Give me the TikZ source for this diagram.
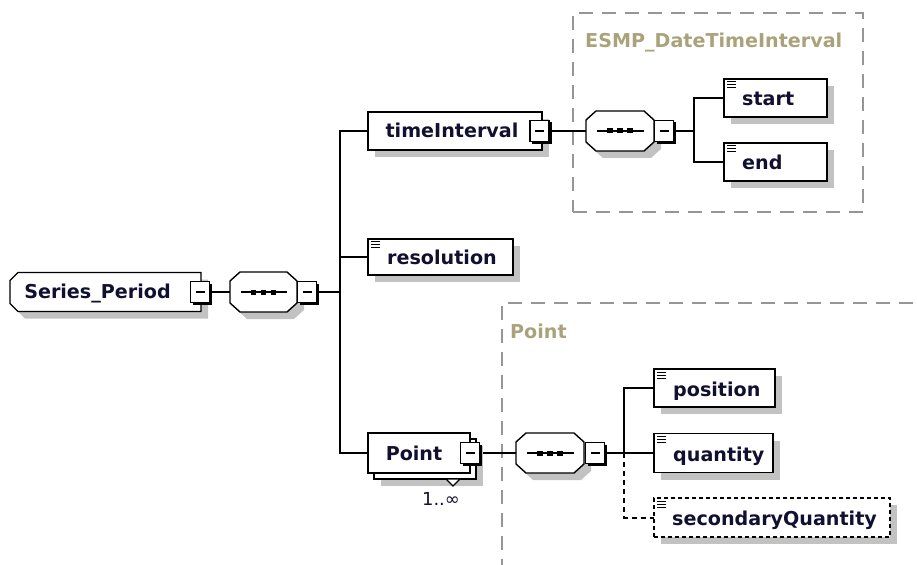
\documentclass[tikz,border=0pt]{standalone}
\usepackage{fontspec}
\setmainfont{DejaVu Sans}
\usetikzlibrary{shadows,calc}

\definecolor{ink}{RGB}{16,16,48}
\definecolor{shade}{RGB}{194,194,194}
\definecolor{grpline}{RGB}{150,150,150}
\definecolor{grplabel}{RGB}{170,162,122}

\pgfdeclarelayer{frames}
\pgfdeclarelayer{wires}
\pgfsetlayers{frames,wires,main}

\tikzset{
  shadowed/.style={drop shadow={shadow xshift=7bp,shadow yshift=-7bp,fill=shade,opacity=1}},
  plainnode/.style={rectangle,inner sep=0pt,outer sep=0pt},
  elembox/.style={plainnode,draw=black,fill=white,line width=1.4bp},
  elemshadow/.style={elembox,shadowed},
  optbox/.style={elembox,shadowed,dash pattern=on 4bp off 3bp},
  minusnode/.style={elembox,minimum width=19bp,minimum height=21bp},
  seqshape/.style={draw=black,fill=white,line width=1.4bp,shadowed},
  boxtext/.style={inner sep=0pt,text=ink,font=\fontsize{19.2}{22}\selectfont\bfseries},
  grptext/.style={inner sep=0pt,text=grplabel,font=\fontsize{19.2}{22}\selectfont\bfseries},
  multtext/.style={inner sep=0pt,text=ink,font=\fontsize{18}{20}\selectfont},
  conn/.style={draw=black,line width=2bp},
  optconn/.style={conn,dash pattern=on 5bp off 4bp},
  grpbox/.style={plainnode,draw=grpline,line width=1.5bp,dash pattern=on 14bp off 9bp},
}

% collapse toggle with a raised right/bottom edge
\newcommand\minusbox[3]{%
  \node[minusnode] (#1) at (#2,#3) {};
  \draw[line width=3bp] ($(#1.north east)+(1,2)$) -- ($(#1.south east)+(1,1)$) -- ($(#1.south west)+(2,1)$);
  \draw[line width=1.4bp] ($(#1.west)+(5,0)$) -- ($(#1.east)+(-5,0)$);
}

% sequence compositor: octagon with a dotted bar
\newcommand\seqgroup[4]{%
  \node[plainnode,minimum width=#4bp,minimum height=40bp] (#1) at (#2,#3) {};
  \draw[seqshape] ($(#1.north west)+(10,0)$) -- ($(#1.north east)+(-10,0)$)
    -- ($(#1.north east)+(0,9)$) -- ($(#1.south east)+(0,-9)$)
    -- ($(#1.south east)+(-10,0)$) -- ($(#1.south west)+(10,0)$)
    -- ($(#1.south west)+(0,-9)$) -- ($(#1.north west)+(0,9)$) -- cycle;
  \draw[line width=1.6bp] ($(#1.west)+(11,0)$) -- ($(#1.east)+(-10,0)$);
  \foreach \d in {-10,0,10}
    \fill ($(#1.center)+(\d,0)$) ++(-2.7,-2.5) rectangle ++(5.4,5);
}

% simple-content marker in the top left corner of a box
\newcommand\texticon[1]{%
  \foreach \k in {0,3,6}
    \draw[line width=1bp] ($(#1.north west)+(3,3+\k)$) -- ++(9,0);
}

\begin{document}
\begin{tikzpicture}[x=1bp,y=-1bp]
\useasboundingbox (0,0) rectangle (917,565);

% type group frames
\begin{pgfonlayer}{frames}
  \node[grpbox,minimum width=290bp,minimum height=199bp] (grpESMP) at (718,112.5) {};
  \node[grpbox,anchor=north west,minimum width=500bp,minimum height=400bp] (grpPoint) at (502,303) {};
\end{pgfonlayer}
\node[grptext,anchor=base west] (grpESMPlbl) at (585,48) {ESMP\_DateTimeInterval};
\node[grptext,anchor=base west] (grpPointlbl) at (510,338) {Point};

% root element
\node[plainnode,minimum width=191bp,minimum height=39bp] (sp) at (105.5,292) {};
\draw[seqshape] ($(sp.north west)+(8,0)$) -- (sp.north east) -- (sp.south east)
  -- ($(sp.south west)+(8,0)$) -- ($(sp.south west)+(0,-8)$) -- ($(sp.north west)+(0,8)$) -- cycle;
\node[boxtext,anchor=base] (spT) at (97.5,298) {Series\_Period};
\minusbox{spm}{200}{292}

\seqgroup{seqA}{263.5}{292}{67}
\minusbox{seqAm}{307}{292}

% timeInterval
\node[elemshadow,minimum width=174bp,minimum height=38bp] (ti) at (455,131) {};
\node[boxtext,anchor=base] (tiT) at (452,138) {timeInterval};
\minusbox{tim}{539.5}{131}

\seqgroup{seqB}{620}{131}{68}
\minusbox{seqBm}{664}{131}

\node[elemshadow,minimum width=103bp,minimum height=38bp] (start) at (775.5,98) {};
\texticon{start}
\node[boxtext,anchor=base west] (startT) at (742,106) {start};

\node[elemshadow,minimum width=103bp,minimum height=38bp] (end) at (775.5,162) {};
\texticon{end}
\node[boxtext,anchor=base west] (endT) at (742,170) {end};

% resolution
\node[elemshadow,minimum width=145bp,minimum height=36bp] (res) at (440.5,257) {};
\texticon{res}
\node[boxtext,anchor=base west] (resT) at (387,265) {resolution};

% Point (repeated element)
\node[elemshadow,minimum width=102bp,minimum height=40bp] (ptb) at (425,459) {};
\draw[line width=1.2bp,fill=white] ($(ptb.south east)+(-30,0)$) -- ($(ptb.south east)+(-16,0)$)
  -- ($(ptb.south east)+(-23,7)$) -- cycle;
\node[elembox,minimum width=102bp,minimum height=40bp] (pt) at (419,453) {};
\node[boxtext,anchor=base] (ptT) at (414,460) {Point};
\minusbox{ptm}{470}{453}
\node[multtext,anchor=base] (ptmult) at (441,505) {1..∞};

\seqgroup{seqC}{550}{453}{68}
\minusbox{seqCm}{595}{453}

\node[elemshadow,minimum width=121bp,minimum height=38bp] (pos) at (714.5,388) {};
\texticon{pos}
\node[boxtext,anchor=base west] (posT) at (673,396) {position};

\node[elemshadow,minimum width=119bp,minimum height=39bp] (qty) at (713.5,453) {};
\texticon{qty}
\node[boxtext,anchor=base west] (qtyT) at (673,461) {quantity};

\node[optbox,minimum width=236bp,minimum height=39bp] (secq) at (772,517.5) {};
\texticon{secq}
\node[boxtext,anchor=base west] (secqT) at (672,525.5) {secondaryQuantity};

% connectors
\begin{pgfonlayer}{wires}
  \draw[conn] (spm.east) -- (seqA.west);
  \coordinate (brA) at ($(seqAm.east)+(23.5,0)$);
  \draw[conn] (seqAm.east) -- (brA);
  \draw[conn] (ti.west) -| (brA) |- (pt.west);
  \draw[conn] (brA |- res.west) -- (res.west);

  \draw[conn] (tim.east) -- (seqB.west);
  \coordinate (brB) at ($(seqBm.east)+(20.5,0)$);
  \draw[conn] (seqBm.east) -- (brB);
  \draw[conn] (start.west) -| (brB) |- (end.west);

  \draw[conn] (ptm.east) -- (seqC.west);
  \coordinate (brC) at ($(seqCm.east)+(19.5,0)$);
  \draw[conn] (seqCm.east) -- (brC);
  \draw[conn] (pos.west) -| (brC) -- (qty.west);
  \draw[optconn] (brC) |- (secq.west);
\end{pgfonlayer}
\end{tikzpicture}
\end{document}
